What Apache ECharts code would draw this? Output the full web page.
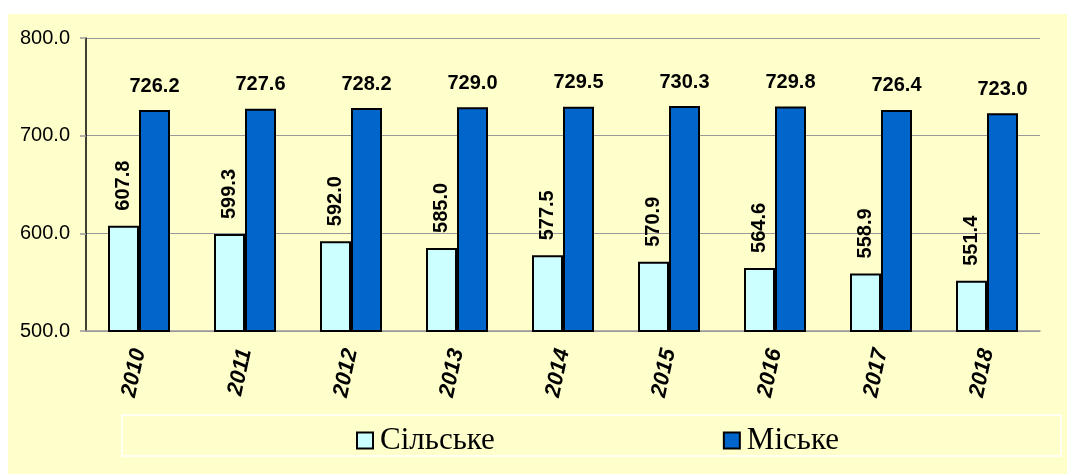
<!DOCTYPE html>
<html>
<head>
<meta charset="utf-8">
<title>ECharts</title>
<script src="https://cdn.jsdelivr.net/npm/echarts@6/dist/echarts.min.js"></script>
<style>
  html, body { margin: 0; padding: 0; background: #fff; }
</style>
</head>
<body>
	<div id="main" style="width: 1067px; height: 474px;"></div>

	<script type="text/javascript">
         // дані
         var years = ['2010', '2011', '2012', '2013', '2014', '2015', '2016', '2017', '2018'];
         var rural = [607.8, 599.3, 592.0, 585.0, 577.5, 570.9, 564.6, 558.9, 551.4];
         var urban = [726.2, 727.6, 728.2, 729.0, 729.5, 730.3, 729.8, 726.4, 723.0];
         var yTicks = [500, 600, 700, 800];

         var myChart = echarts.init(document.getElementById('main'));

         var labelFont = {
             fontFamily: 'Arial, "Liberation Sans"',
             fontWeight: 'bold',
             fontSize: 20,
             color: '#000'
         };

         var option = {
             backgroundColor: '#fff',
             animation: false,
             graphic: [
                 {
                     type: 'rect', z: -10, silent: true,
                     shape: { x: 8, y: 14, width: 1067, height: 474 },
                     style: { fill: '#FFFFCC' }
                 },
                 {
                     type: 'rect', z: -5, silent: true,
                     shape: { x: 122, y: 415, width: 939, height: 41 },
                     style: { fill: 'none', stroke: '#fff', lineWidth: 1.5 }
                 }
             ],
             grid: { left: 86, top: 38, right: 27, bottom: 143 },
             legend: {
                 left: 351, top: 420,
                 icon: 'rect',
                 itemWidth: 16, itemHeight: 16,
                 itemGap: 228,
                 textStyle: { fontFamily: '"Liberation Serif", "DejaVu Serif", serif', fontSize: 31, color: '#000', padding: [0, 0, 0, 2] },
                 data: ['Сільське', 'Міське']
             },
             xAxis: {
                 type: 'category',
                 data: years,
                 axisLine: { lineStyle: { color: '#999', width: 1.5 } },
                 axisTick: { length: 6, lineStyle: { color: '#999', width: 1.5 } },
                 axisLabel: {
                     rotate: 78,
                     margin: 18,
                     fontFamily: 'Arial, "Liberation Sans"',
                     fontWeight: 'bold',
                     fontStyle: 'italic',
                     fontSize: 22,
                     color: '#000'
                 }
             },
             yAxis: {
                 type: 'value',
                 min: yTicks[0],
                 max: yTicks[yTicks.length - 1],
                 interval: 100,
                 axisLine: { show: true, lineStyle: { color: '#000', width: 1.5 } },
                 axisTick: { show: true, length: 6, lineStyle: { color: '#999', width: 1.5 } },
                 splitLine: { lineStyle: { color: '#999', width: 1.2 } },
                 axisLabel: {
                     margin: 16,
                     fontFamily: 'Arial, "Liberation Sans"',
                     fontSize: 20,
                     color: '#000',
                     formatter: function (v) { return v.toFixed(1); }
                 }
             },
             series: [
                 {
                     name: 'Сільське',
                     type: 'bar',
                     data: rural,
                     barWidth: 31,
                     barGap: '0%',
                     itemStyle: { color: '#CCFFFF', borderColor: '#000', borderWidth: 2 },
                     label: Object.assign({
                         show: true,
                         position: 'top',
                         rotate: 90,
                         align: 'left',
                         verticalAlign: 'middle',
                         distance: 15,
                         formatter: function (p) { return p.value.toFixed(1); }
                     }, labelFont)
                 },
                 {
                     name: 'Міське',
                     type: 'bar',
                     data: urban,
                     barWidth: 31,
                     barGap: '0%',
                     itemStyle: { color: '#0066CC', borderColor: '#000', borderWidth: 2 },
                     label: Object.assign({
                         show: true,
                         position: 'top',
                         distance: 14,
                         formatter: function (p) { return p.value.toFixed(1); }
                     }, labelFont)
                 }
             ]
         };
         myChart.setOption(option);
 </script>
</body>
</html>
